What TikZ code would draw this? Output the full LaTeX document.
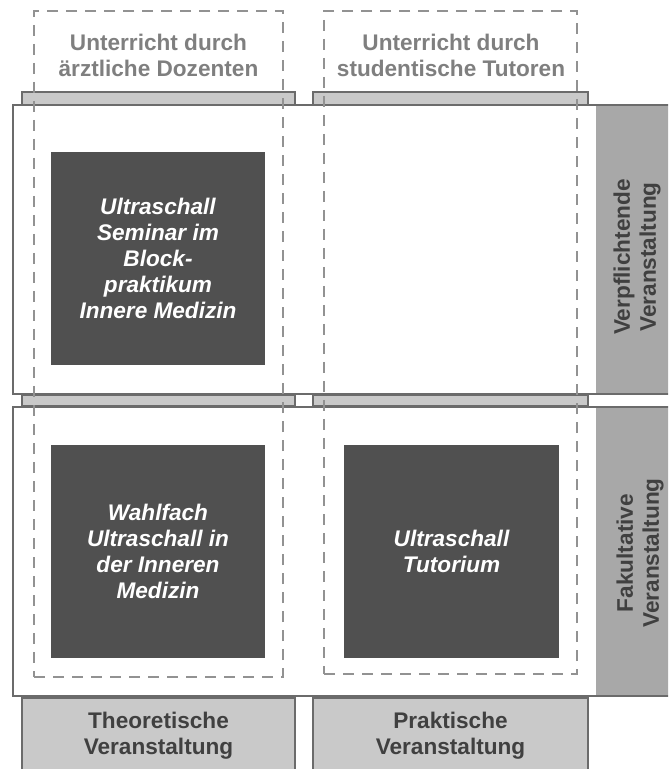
\documentclass[tikz,border=0pt]{standalone}
\usepackage{fontspec}
\setmainfont{Liberation Sans}
\usepackage{xcolor}
\definecolor{rimgray}{HTML}{6B6B6B}
\definecolor{bargray}{HTML}{C9C9C9}
\definecolor{sidegray}{HTML}{A8A8A8}
\definecolor{blockgray}{HTML}{505050}
\definecolor{dashgray}{HTML}{929292}
\definecolor{headgray}{HTML}{7F7F7F}
\definecolor{textgray}{HTML}{404040}
\tikzset{
  lbl/.style={font=\bfseries\fontsize{11.3}{13}\selectfont, align=center},
  rowbox/.style={draw=rimgray, fill=white, line width=1pt, inner sep=0pt,
    minimum width=338.5pt, minimum height=144.5pt},
  sidebox/.style={fill=sidegray, inner sep=0pt, minimum width=47pt, minimum height=143.5pt},
  sidelabel/.style={lbl, text=textgray, rotate=90, inner sep=0pt},
  bar/.style={draw=rimgray, fill=bargray, line width=1pt, inner sep=0pt},
  block/.style={fill=blockgray, text=white, lbl,
    font=\bfseries\itshape\fontsize{11.3}{13}\selectfont,
    minimum width=107pt, minimum height=106.5pt},
  group/.style={draw=dashgray, line width=1.2pt, dash pattern=on 5.5pt off 4pt, inner sep=0pt},
  heading/.style={lbl, text=headgray}
}

\begin{document}
\begin{tikzpicture}[x=0.5pt,y=-0.5pt]
  \useasboundingbox (0,0) rectangle (668,769);
  \clip (0,0) rectangle (668,769);

  \node[rowbox] (row1) at (351.5,249.5) {};
  \node[rowbox] (row2) at (351.5,551.5) {};
  \node[sidebox] (side1) at (643,249.5) {};
  \node[sidebox] (side2) at (643,551.5) {};
  \node[sidelabel] (verpflichtend) at (637,257) {Verpflichtende\\Veranstaltung};
  \node[sidelabel] (fakultativ) at (640,553) {Fakultative\\Veranstaltung};

  \node[bar, minimum width=136.5pt, minimum height=6.5pt] (hd1) at (158.5,98.5) {};
  \node[bar, minimum width=137.5pt, minimum height=6.5pt] (hd2) at (450.5,98.5) {};
  \node[bar, minimum width=136.5pt, minimum height=5.5pt] (md1) at (158.5,400.5) {};
  \node[bar, minimum width=137.5pt, minimum height=5.5pt] (md2) at (450.5,400.5) {};
  \node[bar, lbl, text=textgray, minimum width=136.5pt, minimum height=38.5pt] (ft1) at (158.5,736) {Theoretische\\Veranstaltung};
  \node[bar, lbl, text=textgray, minimum width=137.5pt, minimum height=38.5pt] (ft2) at (450.5,736) {Praktische\\Veranstaltung};

  \node[block] (seminar) at (158,258.5) {Ultraschall\\Seminar im\\Block-\\praktikum\\Innere Medizin};
  \node[block] (wahlfach) at (158,551.5) {Wahlfach\\Ultraschall in\\der Inneren\\Medizin};
  \node[block, minimum width=107.5pt] (tutorium) at (451.5,551.5) {Ultraschall\\Tutorium};

  \node[group, minimum width=124.5pt, minimum height=333pt] (dozenten) at (158.5,344) {};
  \node[group, minimum width=126.5pt, minimum height=331.5pt] (tutoren) at (450.5,342.5) {};

  \node[heading] (dozhead) at (158.5,55) {Unterricht durch\\ärztliche Dozenten};
  \node[heading] (tuthead) at (451,55.5) {Unterricht durch\\studentische Tutoren};
\end{tikzpicture}
\end{document}
